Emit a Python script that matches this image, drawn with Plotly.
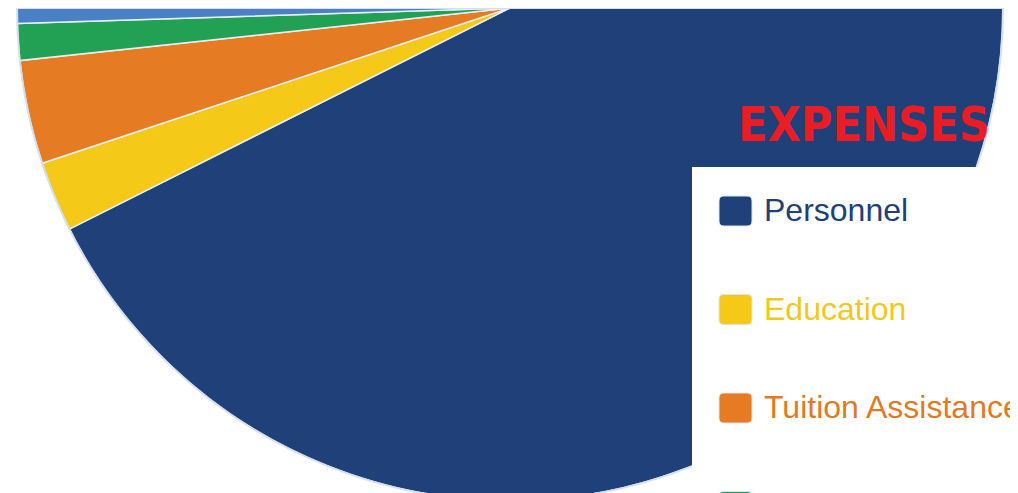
import plotly.graph_objects as go

# ---- data ----
categories = ["Personnel", "Education", "Tuition Assistance", "Facilities", "Other"]
shares = [67.6, 2.3, 3.4, 1.2, 25.5]          # percent of total budget
slice_colors = ["#1f4078", "#f5c918", "#e57c24", "#22a155", "#4a80c5"]
label_colors = ["#1f4078", "#f2c81e", "#e07a25", "#3dbf7d", "#4a80c5"]
title_text = "EXPENSES"

# page body has an 8px margin; work in reference-pixel coordinates
OFF = 8
CX, CR = 510, 493          # pie centre x and radius (reference px)
W, H = 1010, CR


def px(X):
    return (X - OFF) / W


def py(Y):
    return 1 - (Y - OFF) / H


fig = go.Figure()

# pie slices as polar bars (clockwise from 12 o'clock, like a pie)
start = 0.0
total = sum(shares)
for name, v, col in zip(categories, shares, slice_colors):
    span = v / total * 360.0
    fig.add_trace(go.Barpolar(
        r=[1], theta=[start + span / 2], width=[span], name=name,
        marker=dict(color=col, line=dict(color="#e8eef5", width=1.5)),
        showlegend=False, hoverinfo="name",
    ))
    start += span

# legend panel (custom, large rounded squares)
LX0, LY0, STEP, Y0 = 692, 167, 98.5, 211
sq = ("M -11.5,-15 L 11.5,-15 Q 16.5,-15 16.5,-10 L 16.5,10 Q 16.5,15 11.5,15 "
      "L -11.5,15 Q -16.5,15 -16.5,10 L -16.5,-10 Q -16.5,-15 -11.5,-15 Z")
shapes = [dict(type="rect", xref="paper", yref="paper", layer="above",
               x0=px(LX0), x1=1.02, y0=-0.05, y1=py(LY0),
               fillcolor="white", line=dict(width=0))]
annotations = []
for i, (name, col, tcol) in enumerate(zip(categories, slice_colors, label_colors)):
    yc = Y0 + i * STEP
    shapes.append(dict(type="path", xref="paper", yref="paper", layer="above",
                       xsizemode="pixel", ysizemode="pixel",
                       xanchor=px(735.5), yanchor=py(yc), path=sq,
                       fillcolor=col, line=dict(color="#dde3ea", width=1)))
    annotations.append(dict(xref="paper", yref="paper", x=px(762), y=py(yc - 1),
                            xanchor="left", yanchor="middle", showarrow=False,
                            text=name, font=dict(size=32, color=tcol,
                                                 family="Liberation Sans, Arial, sans-serif")))

fig.update_layout(
    width=W, height=H,
    margin=dict(l=0, r=0, t=0, b=0, autoexpand=False),
    paper_bgcolor="white",
    showlegend=False,
    title=dict(text="<b>" + title_text + "</b>", x=px(738), xanchor="left",
               y=py(124), yanchor="middle",
               font=dict(size=48, color="#ea1d25",
                         family="DejaVu Sans Condensed, Liberation Sans Narrow, sans-serif")),
    polar=dict(
        domain=dict(x=[px(CX - CR), px(CX + CR)], y=[0, 1]),
        sector=[180, 360],
        hole=0,
        bgcolor="white",
        barmode="overlay",
        radialaxis=dict(visible=False, range=[0, 1]),
        angularaxis=dict(rotation=90, direction="clockwise", showticklabels=False,
                         ticks="", showgrid=False, showline=True,
                         linecolor="#d6e0ec", linewidth=2),
    ),
    shapes=shapes,
    annotations=annotations,
)

fig.write_html("out.html")
